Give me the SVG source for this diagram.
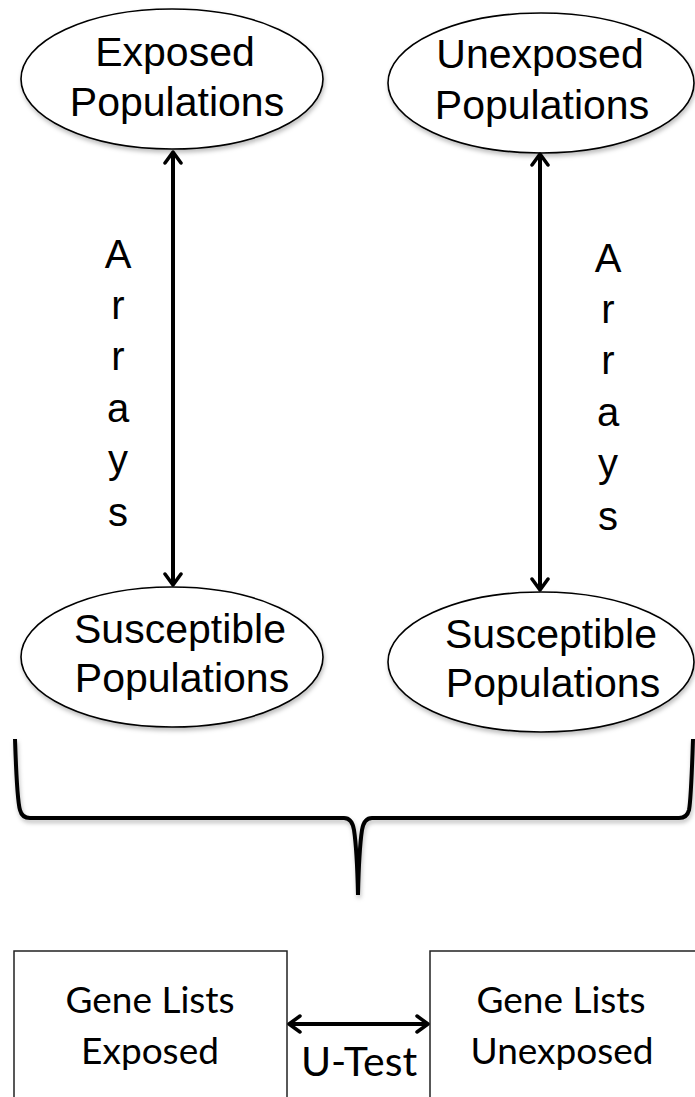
<svg xmlns="http://www.w3.org/2000/svg" width="695" height="1097" viewBox="0 0 695 1097">
<style>
.ell{fill:#fff;stroke:#000;stroke-width:1.6}
.t{font-family:"Liberation Sans",Arial,sans-serif;font-size:41px;fill:#000;text-anchor:middle}
.a{font-family:"Liberation Sans",Arial,sans-serif;font-size:40px;fill:#000;text-anchor:middle}
.b{font-family:Lato,"Open Sans",sans-serif;font-size:37px;fill:#000;text-anchor:middle}
.box{fill:#fff;stroke:#222;stroke-width:1.5}
.conn{fill:none;stroke:#000;stroke-width:4}
</style>
<defs>
<filter id="sh" x="-10%" y="-10%" width="120%" height="130%">
<feDropShadow dx="1" dy="3" stdDeviation="2" flood-color="#000" flood-opacity="0.25"/>
</filter>
<marker id="ah" viewBox="0 0 16 20" refX="14" refY="10" markerWidth="16" markerHeight="20" markerUnits="userSpaceOnUse" orient="auto-start-reverse">
<path d="M3,2 L14,10 L3,18" fill="none" stroke="#000" stroke-width="3.5" stroke-linecap="round" stroke-linejoin="round"/>
</marker>
</defs>
<g id="exposed">
<ellipse class="ell" filter="url(#sh)" cx="172" cy="79" rx="151" ry="70"/>
<text class="t" x="175" y="66">Exposed</text>
<text class="t" x="177" y="116">Populations</text>
</g>
<g id="unexposed">
<ellipse class="ell" filter="url(#sh)" cx="541" cy="83" rx="153" ry="70"/>
<text class="t" x="540" y="68">Unexposed</text>
<text class="t" x="542" y="119">Populations</text>
</g>
<g id="susceptible-left">
<ellipse class="ell" filter="url(#sh)" cx="172" cy="657" rx="151" ry="70"/>
<text class="t" x="180" y="643">Susceptible</text>
<text class="t" x="182" y="692">Populations</text>
</g>
<g id="susceptible-right">
<ellipse class="ell" filter="url(#sh)" cx="541" cy="662" rx="153" ry="70"/>
<text class="t" x="551" y="648">Susceptible</text>
<text class="t" x="553" y="697">Populations</text>
</g>
<g id="arrays-left">
<text class="a" x="118" y="268">A</text>
<text class="a" x="118" y="319">r</text>
<text class="a" x="118" y="370">r</text>
<text class="a" x="118" y="422">a</text>
<text class="a" x="118" y="473">y</text>
<text class="a" x="118" y="526">s</text>
</g>
<g id="arrays-right">
<text class="a" x="608" y="272">A</text>
<text class="a" x="608" y="323">r</text>
<text class="a" x="608" y="374">r</text>
<text class="a" x="608" y="426">a</text>
<text class="a" x="608" y="477">y</text>
<text class="a" x="608" y="530">s</text>
</g>
<g id="brace">
<path class="conn" filter="url(#sh)" d="M15,739 C16,770 17,800 20,810 Q22,818 30,818 L344,818 Q352,818 354,830 Q357,850 358,895 M693,739 C692,770 691,800 689,810 Q687,818 679,818 L372,818 Q364,818 362,830 Q359,850 358,895" stroke-linejoin="round"/>
</g>
<g id="gene-exposed">
<rect class="box" x="14" y="951" width="273" height="160"/>
<text class="b" x="150" y="1013">Gene Lists</text>
<text class="b" x="150" y="1064">Exposed</text>
</g>
<g id="gene-unexposed">
<rect class="box" x="430" y="951" width="280" height="160"/>
<text class="b" x="561" y="1013">Gene Lists</text>
<text class="b" x="562" y="1064">Unexposed</text>
</g>
<g id="connectors">
<line class="conn" x1="173" y1="152" x2="173" y2="585" marker-start="url(#ah)" marker-end="url(#ah)" stroke-width="3.5"/>
<line class="conn" x1="540" y1="154" x2="540" y2="590" marker-start="url(#ah)" marker-end="url(#ah)" stroke-width="3.5"/>
<line class="conn" x1="289" y1="1024" x2="428" y2="1024" marker-start="url(#ah)" marker-end="url(#ah)" stroke-width="3.5"/>
<text class="b" x="359" y="1076" style="font-size:41px">U-Test</text>
</g>
</svg>
